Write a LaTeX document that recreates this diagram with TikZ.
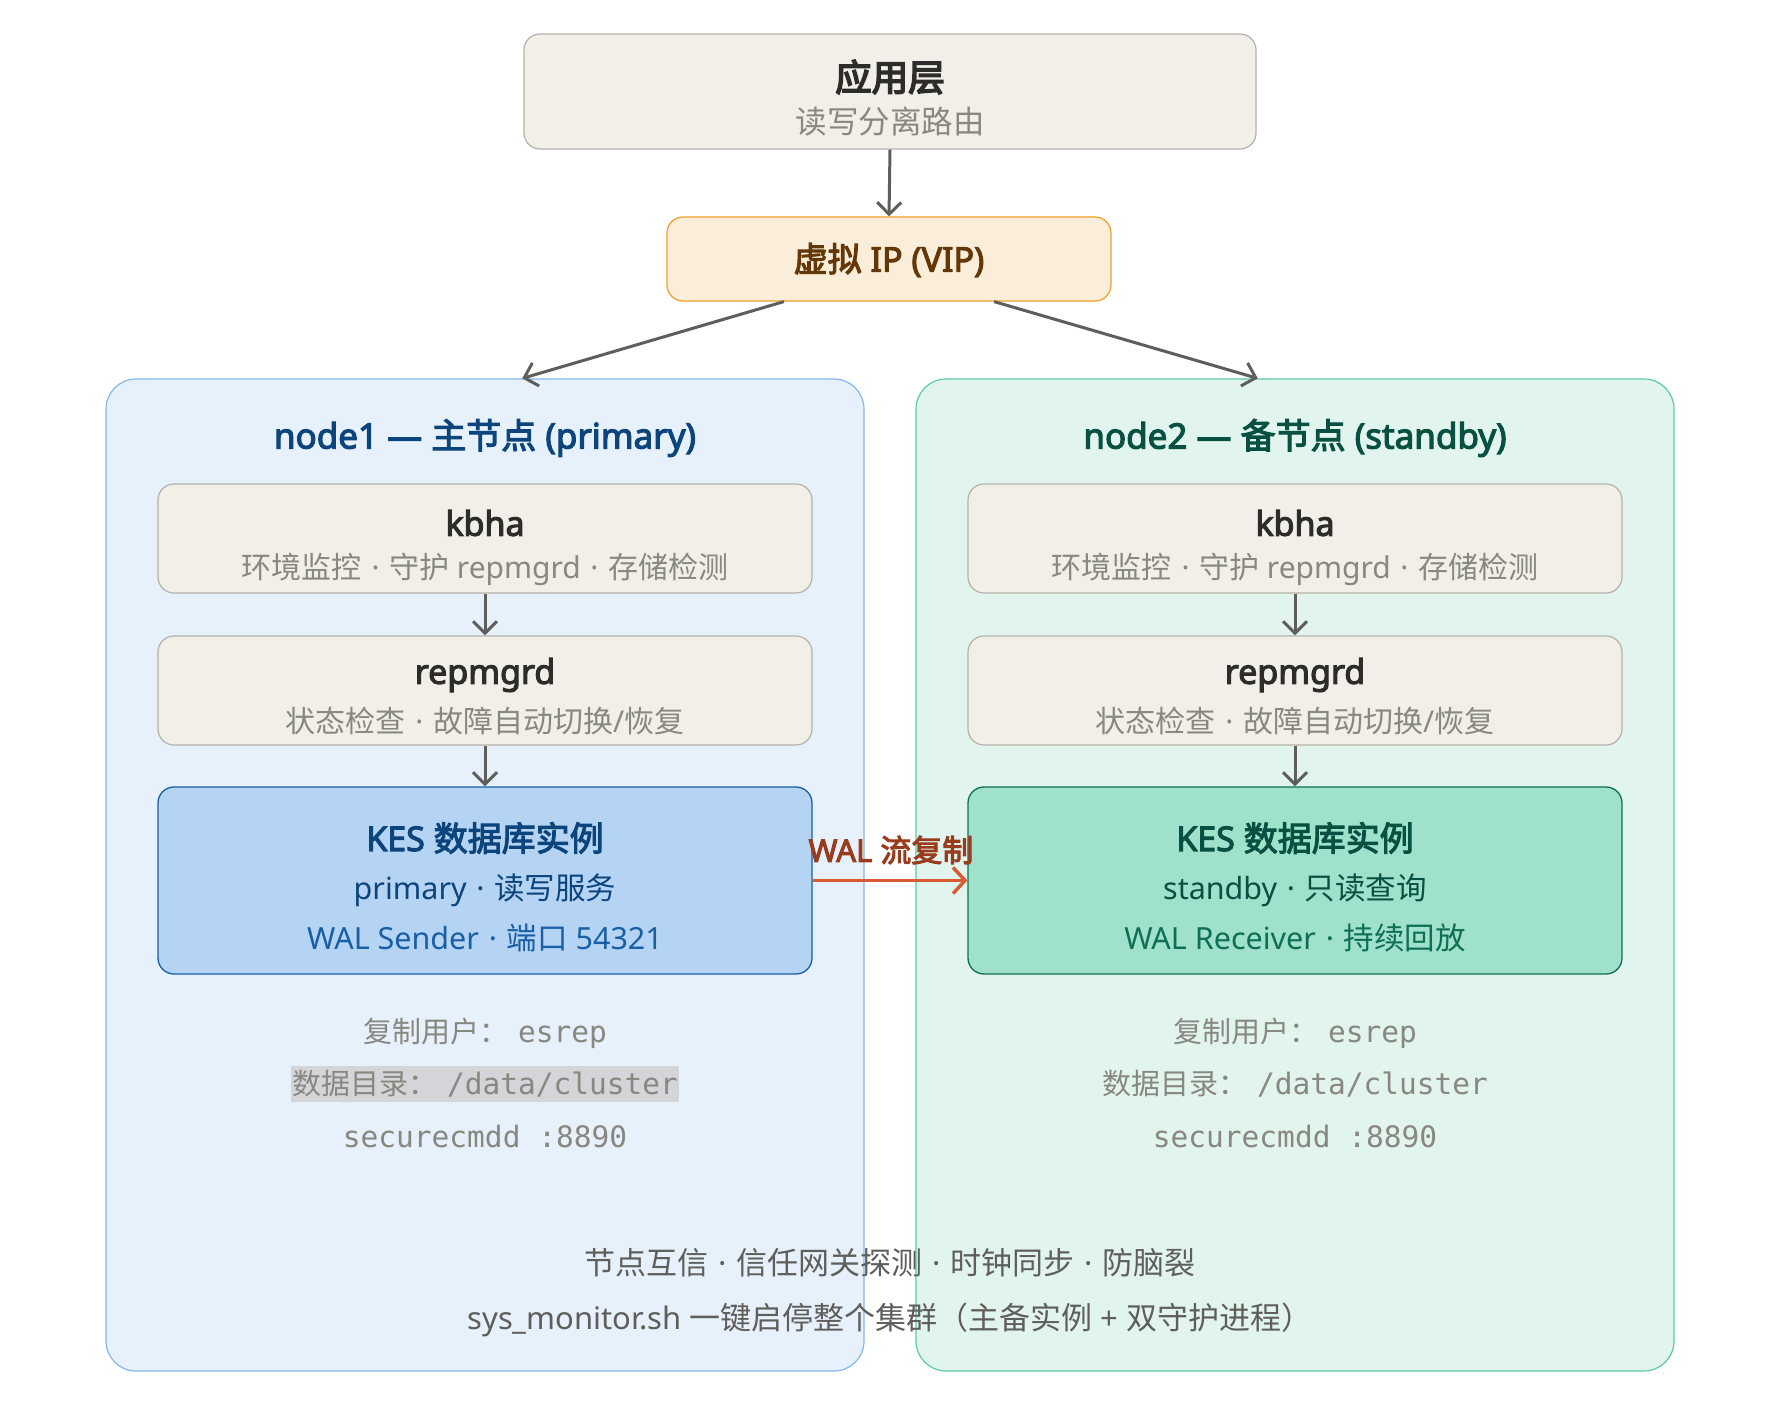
\documentclass[tikz,border=0pt]{standalone}
\usepackage{fontspec}
\setmainfont{Noto Sans}
\newfontfamily\Creg{Noto Sans CJK SC}
\newfontfamily\Cmed{Noto Sans CJK SC}[FakeBold=3.2]
\newfontfamily\Cbold{Noto Sans CJK SC}[FakeBold=4.5]
\newfontfamily\Lreg{Noto Sans}
\newfontfamily\Lmed{Noto Sans}[FakeBold=3.2]
\newfontfamily\latmono{DejaVu Sans Mono}
\let\cjkfont\Creg
\newcommand{\C}[1]{{\cjkfont#1}}
\usetikzlibrary{arrows.meta,calc}
\definecolor{gfill}{HTML}{F1EFE8}
\definecolor{gline}{HTML}{B4B2A9}
\definecolor{gdark}{HTML}{2C2C2A}
\definecolor{gsub}{HTML}{888780}
\definecolor{gmid}{HTML}{5F5E5A}
\definecolor{afill}{HTML}{FAEEDA}
\definecolor{aline}{HTML}{EF9F27}
\definecolor{atext}{HTML}{633806}
\definecolor{bfill}{HTML}{E6F1FB}
\definecolor{bline}{HTML}{85B7EB}
\definecolor{bkes}{HTML}{B5D4F4}
\definecolor{bkesline}{HTML}{185FA5}
\definecolor{bdark}{HTML}{0C447C}
\definecolor{bmid}{HTML}{185FA5}
\definecolor{tfill}{HTML}{E1F5EE}
\definecolor{tline}{HTML}{5DCAA5}
\definecolor{tkes}{HTML}{9FE1CB}
\definecolor{tkesline}{HTML}{0F6E56}
\definecolor{tdark}{HTML}{085041}
\definecolor{tmid}{HTML}{0F6E56}
\definecolor{coral}{HTML}{D85A30}
\definecolor{coraldark}{HTML}{993C1D}
\definecolor{hlgray}{HTML}{D3D5D8}
\definecolor{arrowgray}{HTML}{5F5E5A}
\newcommand{\fsz}[1]{\fontsize{#1}{#1}\selectfont}
\newcommand{\medw}{\Lmed\let\cjkfont\Cmed}
\newcommand{\heavyw}{\Lmed\let\cjkfont\Cbold}
\newcommand{\sep}{\hspace{0.32em}·\hspace{0.32em}}
\begin{document}
\begin{tikzpicture}[x=1pt,y=-1pt,
  grayblock/.style={draw=gline,fill=gfill,line width=1.2pt,rounded corners=16pt,minimum width=654pt,minimum height=109pt,inner sep=0pt},
  container/.style={line width=1.2pt,rounded corners=30pt,minimum width=758pt,minimum height=992pt,inner sep=0pt},
  kesblock/.style={line width=1.3pt,rounded corners=16pt,minimum width=654pt,minimum height=187pt,inner sep=0pt},
  flow/.style={draw=arrowgray,line width=3pt,-{Straight Barb[length=12pt,width=24pt,line width=3pt]}},
  txt/.style={inner sep=0pt,anchor=center},
  boxtitle/.style={txt,font=\fsz{34}\medw,text=gdark},
  boxsub/.style={txt,font=\fsz{30},text=gsub},
  monoline/.style={txt,text=gsub},
]
\useasboundingbox (0,0) rectangle (1780,1426);
\fill[white] (0,0) rectangle (1780,1426);

% top
\node[draw=gline,fill=gfill,line width=1.2pt,rounded corners=16pt,minimum width=732pt,minimum height=115pt,inner sep=0pt] (app) at (890,91.5) {};
\node[txt,font=\fsz{36.5}\heavyw,text=gdark] (appT) at (890,77) {\C{应用层}};
\node[boxsub,font=\fsz{31.5}] (appS) at (890,121) {\C{读写分离路由}};

\node[draw=aline,fill=afill,line width=1.2pt,rounded corners=16pt,minimum width=444pt,minimum height=84pt,inner sep=0pt] (vip) at (889,259) {};
\node[txt,font=\fsz{34}\medw,text=atext] (vipT) at (889,260) {\C{虚拟} IP (VIP)};

% containers
\node[container,draw=bline,fill=bfill] (left) at (485,875) {};
\node[container,draw=tline,fill=tfill] (right) at (1295,875) {};

\draw[flow] (app.south) -- (vip.north);
\draw[flow] ($(vip.south west)!0.264!(vip.south east)$) -- ($(left.north west)!0.549!(left.north east)$);
\draw[flow] ($(vip.south west)!0.736!(vip.south east)$) -- ($(right.north west)!0.451!(right.north east)$);

\node[txt,font=\fsz{35}\medw,text=bdark] (leftT) at (485,438) {node1 — \C{主节点} (primary)};
\node[txt,font=\fsz{35}\medw,text=tdark] (rightT) at (1295,438) {node2 — \C{备节点} (standby)};

% left column
\node[grayblock] (kbhaL) at (485,538.5) {};
\node[boxtitle] (kbhaLT) at (485,523) {kbha};
\node[boxsub] (kbhaLS) at (485,569) {\C{环境监控}\sep\C{守护} repmgrd\sep\C{存储检测}};
\node[grayblock] (repL) at (485,690.5) {};
\node[boxtitle] (repLT) at (485,675) {repmgrd};
\node[boxsub] (repLS) at (485,721) {\C{状态检查}\sep\C{故障自动切换}/\C{恢复}};
\node[kesblock,draw=bkesline,fill=bkes] (kesL) at (485,880.5) {};
\node[txt,font=\fsz{34}\medw,text=bdark] (kesLT) at (485,838) {KES \C{数据库实例}};
\node[txt,font=\fsz{30.5},text=bdark] (kesL2) at (485,890) {primary\sep\C{读写服务}};
\node[txt,font=\fsz{30.5},text=bmid] (kesL3) at (485,938) {WAL Sender\sep\C{端口} 54321};
\draw[flow] (kbhaL.south) -- (repL.north);
\draw[flow] (repL.south) -- (kesL.north);

% right column
\node[grayblock] (kbhaR) at (1295,538.5) {};
\node[boxtitle] (kbhaRT) at (1295,523) {kbha};
\node[boxsub] (kbhaRS) at (1295,569) {\C{环境监控}\sep\C{守护} repmgrd\sep\C{存储检测}};
\node[grayblock] (repR) at (1295,690.5) {};
\node[boxtitle] (repRT) at (1295,675) {repmgrd};
\node[boxsub] (repRS) at (1295,721) {\C{状态检查}\sep\C{故障自动切换}/\C{恢复}};
\node[kesblock,draw=tkesline,fill=tkes] (kesR) at (1295,880.5) {};
\node[txt,font=\fsz{34}\medw,text=tdark] (kesRT) at (1295,838) {KES \C{数据库实例}};
\node[txt,font=\fsz{30.5},text=tdark] (kesR2) at (1295,890) {standby\sep\C{只读查询}};
\node[txt,font=\fsz{30.5},text=tmid] (kesR3) at (1295,938) {WAL Receiver\sep\C{持续回放}};
\draw[flow] (kbhaR.south) -- (repR.north);
\draw[flow] (repR.south) -- (kesR.north);

% replication
\draw[draw=coral,line width=3.4pt,-{Straight Barb[length=12pt,width=26pt,line width=3.4pt]}] (kesL.east) -- (kesR.west);
\node[txt,font=\fsz{31}\medw,text=coraldark] (walT) at (891,850) {WAL \C{流复制}};

% mono lines
\node[monoline] (uL) at (485,1033) {\Creg\fsz{29}复制用户：\hspace{10pt}\latmono\fsz{29.5}esrep};
\node[monoline,fill=hlgray,inner xsep=1pt,inner ysep=4pt] (dL) at (485,1084) {\Creg\fsz{29}数据目录：\hspace{10pt}\latmono\fsz{29.5}/data/cluster};
\node[monoline] (sL) at (485,1136) {\latmono\fsz{29.5}securecmdd :8890};
\node[monoline] (uR) at (1295,1033) {\Creg\fsz{29}复制用户：\hspace{10pt}\latmono\fsz{29.5}esrep};
\node[monoline] (dR) at (1295,1084) {\Creg\fsz{29}数据目录：\hspace{10pt}\latmono\fsz{29.5}/data/cluster};
\node[monoline] (sR) at (1295,1136) {\latmono\fsz{29.5}securecmdd :8890};

% bottom
\node[txt,font=\fsz{31},text=gmid] (b1) at (890,1263) {\C{节点互信}\sep\C{信任网关探测}\sep\C{时钟同步}\sep\C{防脑裂}};
\node[txt,font=\fsz{31},text=gmid] (b2) at (890,1320) {sys\_monitor.sh \C{一键启停整个集群（主备实例} + \C{双守护进程）}};
\end{tikzpicture}
\end{document}
